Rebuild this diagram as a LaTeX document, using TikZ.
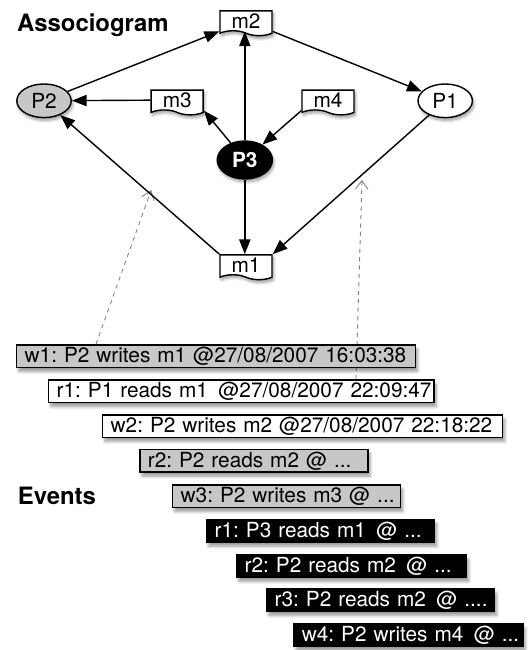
\documentclass[tikz,border=0pt]{standalone}
\usepackage{fontspec}
\setmainfont{TeX Gyre Heros}
\usetikzlibrary{arrows.meta,shapes.geometric,shapes.symbols,shadows.blur,backgrounds}
\frenchspacing

\begin{document}
\begin{tikzpicture}[
    font=\fontsize{14.8}{17}\selectfont,
    arrow/.style = {line width=1pt,-{Triangle[length=10.5pt,width=8pt]}},
    trace/.style = {gray,semithick,dashed,-{Straight Barb[length=6pt,width=9pt]}},
    msg/.style = {draw,line width=1pt,fill=white,shape=tape,tape bend top=none,
        tape bend bottom=out and in,tape bend height=3.5pt,
        minimum width=1.3cm,minimum height=0.62cm,inner sep=1pt,
        blur shadow={shadow blur steps=6,shadow xshift=1pt,shadow yshift=-2pt}},
    proc/.style = {draw,line width=1pt,ellipse,minimum width=1.36cm,minimum height=0.84cm,inner sep=0pt,
        blur shadow={shadow blur steps=6,shadow xshift=1pt,shadow yshift=-2pt}},
    event/.style = {draw,line width=1pt,anchor=west,align=left,minimum height=0.56cm,
        inner xsep=0.2cm,inner ysep=0pt,
        blur shadow={shadow blur steps=6,shadow xshift=1.5pt,shadow yshift=-3pt}},
    title/.style = {anchor=west,inner sep=0pt,font=\fontsize{17}{19}\selectfont\bfseries}]

    \useasboundingbox (0,0) rectangle (13.2,-16.25);

    % associogram
    \node[title] (atitle) at (0.42,-0.64) {Associogram};

    \node[msg] (m2) at (6.15,-0.52) {m2};
    \node[proc,fill=black!22] (P2) at (1.1,-2.52) {P2};
    \node[msg] (m3) at (4.43,-2.5) {m3};
    \node[msg] (m4) at (8.2,-2.5) {m4};
    \node[proc,fill=white] (P1) at (11.13,-2.52) {P1};
    \node[proc,fill=black,text=white,font=\fontsize{14.8}{17}\selectfont\bfseries,
        minimum width=1.38cm,minimum height=0.95cm] (P3) at (6.12,-4.0) {P3};
    \node[msg] (m1) at (6.15,-6.62) {m1};

    \draw[arrow] (P2) -- (m2.south west);
    \draw[arrow] (m2.south east) -- (P1);
    \draw[arrow] (P3) -- (P3 |- m2.south);
    \draw[arrow] (m3) -- (P2);
    \draw[arrow] (P3) -- (m3.south east);
    \draw[arrow] (m4.south west) -- (P3);
    \draw[arrow] (P3) -- (P3 |- m1.north);
    \draw[arrow] (P1) -- (m1.north east);
    \draw[arrow] (m1.north west) -- (P2);

    % events
    \node[title] (etitle) at (0.44,-12.4) {Events};

    \node[event,fill=black!22,text width=9.57cm] (w1) at (0.4,-8.9)
        {\mbox{w1: P2 writes m1 @27/08/2007 16:03:38}};
    \node[event,fill=white,text width=9.23cm] (r1) at (1.2,-9.78)
        {\mbox{r1: P1 reads m1 \,@27/08/2007 22:09:47}};
    \node[event,fill=white,text width=9.6cm] (w2) at (2.55,-10.65)
        {\mbox{w2: P2 writes m2 @27/08/2007 22:18:22}};
    \node[event,fill=black!22,text width=5.3cm] (r2) at (3.48,-11.52)
        {\mbox{r2: P2 reads m2 @ ...}};
    \node[event,fill=black!22,text width=5.3cm] (w3) at (4.3,-12.4)
        {\mbox{w3: P2 writes m3 @ ...}};
    \node[event,fill=black,text=white,text width=5.3cm] (r1b) at (5.15,-13.27)
        {\mbox{r1: P3 reads m1 \,@ ...}};
    \node[event,fill=black,text=white,text width=5.35cm] (r2b) at (5.9,-14.15)
        {\mbox{r2: P2 reads m2 \,@ ...}};
    \node[event,fill=black,text=white,text width=5.3cm] (r3) at (6.65,-15.0)
        {\mbox{r3: P2 reads m2 \,@ ....}};
    \node[event,fill=black,text=white,text width=5.33cm] (w4) at (7.33,-15.88)
        {\mbox{w4: P2 writes m4 \,@ ...}};

    % traces from events back to the associogram
    \coordinate (t1) at (3.78,-4.75);
    \coordinate (t2) at (9.05,-4.5);
    \begin{scope}[on background layer]
        \draw[trace] ([xshift=2.0cm]w1.north west) -- (t1);
        \draw[trace] ([xshift=7.7cm]r1.north west) -- (t2);
    \end{scope}
\end{tikzpicture}
\end{document}
